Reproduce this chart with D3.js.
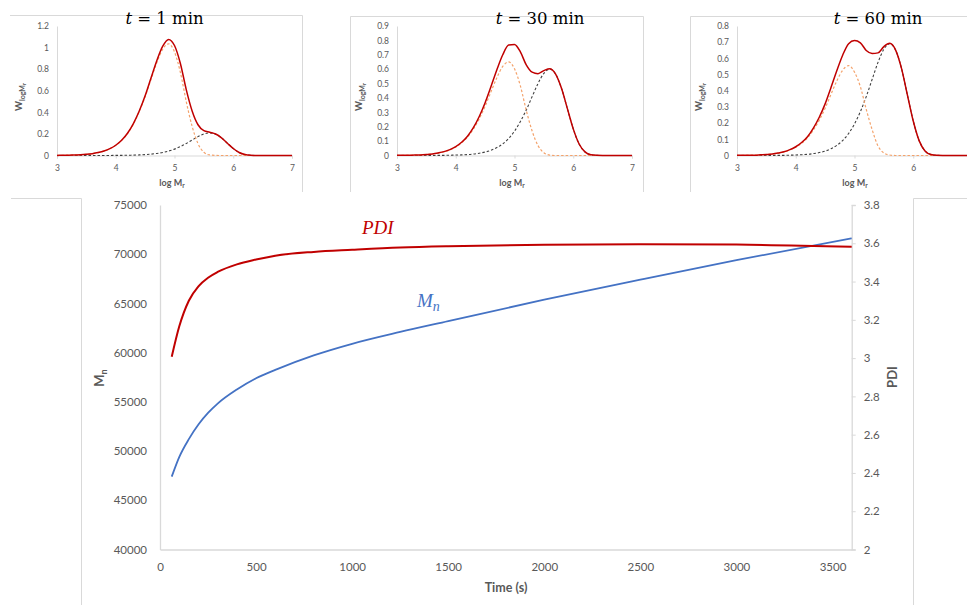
<!DOCTYPE html>
<html><head><meta charset="utf-8">
<script src="https://cdn.jsdelivr.net/npm/d3@7"></script>
<style>body{margin:0;background:#fff}svg{display:block}</style>
</head><body>
<svg id="c" width="967" height="605"></svg>
<script>
// ---------- data ----------
const logM = [3.0,3.1,3.2,3.3,3.4,3.5,3.6,3.7,3.8,3.9,4.0,4.1,4.2,4.3,4.4,4.5,4.6,4.7,4.8,4.9,5.0,5.1,5.2,5.3,5.4,5.5,5.6,5.7,5.8,5.9,6.0,6.1,6.2,6.3,6.4,6.5,6.6,6.7,6.8,6.9,7.0];

const t1Total = [0.001,0.002,0.003,0.005,0.007,0.011,0.017,0.027,0.041,0.063,0.095,0.141,0.206,0.296,0.412,0.553,0.718,0.881,1.013,1.076,1.019,0.853,0.611,0.413,0.285,0.23,0.215,0.199,0.164,0.114,0.065,0.028,0.009,0.002,0,0,0,0,0,0,0];
const t1Low   = [0.001,0.002,0.003,0.005,0.007,0.011,0.017,0.027,0.041,0.063,0.094,0.14,0.204,0.292,0.407,0.545,0.705,0.862,0.985,1.035,0.96,0.77,0.5,0.27,0.11,0.03,0.005,0.001,0,0,0,0,0,0,0,0,0,0,0,0,0];
const t1High  = [0,0,0,0,0,0,0,0.0002,0.0004,0.0006,0.0009,0.0014,0.0023,0.0035,0.0054,0.0083,0.0127,0.0191,0.0284,0.0414,0.0592,0.0825,0.111,0.143,0.175,0.2,0.21,0.198,0.164,0.114,0.065,0.028,0.009,0.002,0,0,0,0,0,0,0];

const t30Total = [0.001,0.001,0.002,0.003,0.004,0.007,0.011,0.018,0.027,0.041,0.062,0.092,0.134,0.193,0.271,0.367,0.479,0.596,0.7,0.768,0.772,0.72,0.63,0.579,0.569,0.59,0.603,0.566,0.467,0.326,0.185,0.08,0.025,0.005,0.001,0,0,0,0,0,0];
const t30Low   = [0.001,0.001,0.002,0.003,0.004,0.007,0.011,0.017,0.026,0.039,0.059,0.088,0.128,0.183,0.255,0.343,0.443,0.541,0.619,0.65,0.603,0.484,0.314,0.17,0.069,0.019,0.003,0,0,0,0,0,0,0,0,0,0,0,0,0,0];
const t30High  = [0,0,0,0,0,0,0,0.001,0.001,0.002,0.003,0.004,0.006,0.01,0.016,0.024,0.036,0.055,0.081,0.118,0.169,0.236,0.316,0.409,0.5,0.571,0.6,0.566,0.467,0.326,0.185,0.08,0.025,0.005,0.001,0,0,0,0,0,0];

const t60Total = [0.001,0.001,0.002,0.002,0.004,0.006,0.009,0.015,0.023,0.036,0.054,0.08,0.116,0.169,0.236,0.319,0.42,0.525,0.621,0.691,0.71,0.696,0.649,0.63,0.634,0.673,0.693,0.651,0.538,0.375,0.213,0.092,0.028,0.006,0.001,0,0,0,0,0,0];
const t60Low   = [0.001,0.001,0.002,0.002,0.004,0.006,0.009,0.014,0.022,0.034,0.051,0.075,0.109,0.157,0.218,0.292,0.378,0.462,0.528,0.555,0.515,0.425,0.285,0.16,0.059,0.016,0.003,0,0,0,0,0,0,0,0,0,0,0,0,0,0];
const t60High  = [0,0,0,0,0,0,0,0.001,0.001,0.002,0.003,0.005,0.007,0.012,0.018,0.027,0.042,0.063,0.093,0.136,0.195,0.271,0.364,0.47,0.575,0.657,0.69,0.651,0.538,0.375,0.213,0.092,0.028,0.006,0.001,0,0,0,0,0,0];

const panelMinutes = ["1","30","60"];
const panelYMax = [1.2, 0.9, 0.8];
const logMTicks = [3,4,5,6,7];
const logMTicksClipped = [3,4,5,6];
const wTicks1 = [0,0.2,0.4,0.6,0.8,1,1.2];
const wTicks30 = [0,0.1,0.2,0.3,0.4,0.5,0.6,0.7,0.8,0.9];
const wTicks60 = [0,0.1,0.2,0.3,0.4,0.5,0.6,0.7,0.8];

const timeS = [61,100,150,200,250,300,400,500,600,800,1000,1250,1500,2000,2500,3000,3600];
const mnValues = [47400,49390,51210,52700,53870,54820,56250,57400,58250,59720,60900,62100,63200,65380,67420,69400,71610];
const pdiValues = [3.007,3.165,3.30,3.375,3.42,3.45,3.49,3.515,3.535,3.555,3.566,3.578,3.585,3.592,3.595,3.593,3.582];
const timeTicks = [0,500,1000,1500,2000,2500,3000,3500];
const mnTicks = [40000,45000,50000,55000,60000,65000,70000,75000];
const pdiTicks = [2,2.2,2.4,2.6,2.8,3,3.2,3.4,3.6,3.8];

// ---------- drawing ----------
const svg = d3.select("#c");
const GRID = "#d9d9d9", TXT = "#595959", RED = "#c00000", BLUE = "#4472c4";
const SANS = "Lato, 'Open Sans', sans-serif";
const SERIF = "'Liberation Serif', 'DejaVu Serif', serif";
const TSERIF = "'DejaVu Serif', 'Liberation Serif', serif";

// frames of the pasted chart boxes
const frames = ["M10,15.5H302.5V192","M350.5,192V16.5H643.5V192","M690.5,192V16.5H967","M11,198.5H81.5V605","M913.5,605V198.5H967"];
svg.selectAll("path.frame").data(frames).join("path").attr("class","frame")
  .attr("d", d => d).attr("fill","none").attr("stroke", GRID).attr("stroke-width",1);

const panels = [
  {x0:57, total:t1Total, low:t1Low, high:t1High, ticks:wTicks1, xticks:logMTicks, tx:164.5, ytx:22, xtx:172},
  {x0:397, total:t30Total, low:t30Low, high:t30High, ticks:wTicks30, xticks:logMTicks, tx:540, ytx:362, xtx:512},
  {x0:737, total:t60Total, low:t60Low, high:t60High, ticks:wTicks60, xticks:logMTicksClipped, tx:878, ytx:702, xtx:855}
];
const fmt1 = d => String(+d.toFixed(1));

panels.forEach((p, i) => {
  const g = svg.append("g");
  const x = d3.scaleLinear([3,7], [p.x0, p.x0 + 235]);
  const y = d3.scaleLinear([0, panelYMax[i]], [155.5, 26]);

  const ya = g.append("g").attr("transform", `translate(${p.x0},0)`)
    .call(d3.axisLeft(y).tickValues(p.ticks).tickSize(0).tickPadding(8).tickFormat(fmt1));
  const xa = g.append("g").attr("transform", `translate(0,155.5)`)
    .call(d3.axisBottom(x).tickValues(p.xticks).tickSize(3).tickPadding(6).tickFormat(d3.format("d")));
  [ya, xa].forEach(a => {
    a.select(".domain").attr("stroke", GRID);
    a.selectAll(".tick line").attr("stroke", GRID);
    a.selectAll("text").attr("fill", TXT).attr("font-family", SANS).attr("font-size", 8.5);
  });

  const pts = arr => arr.map((v, k) => [logM[k], v]);
  const line = d3.line().x(d => x(d[0])).y(d => y(d[1])).curve(d3.curveMonotoneX);
  g.append("path").attr("d", line(pts(p.high))).attr("fill","none")
    .attr("stroke","#404040").attr("stroke-width",1.1).attr("stroke-dasharray","2.5,2");
  g.append("path").attr("d", line(pts(p.low))).attr("fill","none")
    .attr("stroke","#f4a26b").attr("stroke-width",1.2).attr("stroke-dasharray","2.5,2");
  g.append("path").attr("d", line(pts(p.total))).attr("fill","none")
    .attr("stroke", RED).attr("stroke-width",1.5);

  // title
  const tt = g.append("text").attr("x", p.tx).attr("y", 24).attr("text-anchor","middle")
    .attr("font-family", TSERIF).attr("font-size", 16.5).attr("fill","#000");
  tt.append("tspan").attr("font-style","italic").text("t");
  tt.append("tspan").text(" = " + panelMinutes[i] + " min");

  // axis titles
  const yt = g.append("text").attr("transform", `translate(${p.ytx},97) rotate(-90)`)
    .attr("text-anchor","middle").attr("font-family", SANS).attr("font-weight","bold")
    .attr("font-size", 9.5).attr("fill", TXT);
  yt.append("tspan").text("W");
  yt.append("tspan").attr("font-size", 7).attr("dy", 2.5).text("logM");
  yt.append("tspan").attr("font-size", 5.5).attr("dy", 1.5).text("r");

  const xt = g.append("text").attr("x", p.xtx).attr("y", 186).attr("text-anchor","middle")
    .attr("font-family", SANS).attr("font-weight","bold").attr("font-size", 9).attr("fill", TXT);
  xt.append("tspan").text("log M");
  xt.append("tspan").attr("font-size", 6.5).attr("dy", 2).text("r");
});

// ---------- main chart ----------
const X = d3.scaleLinear([0,3600], [160, 851.7]);
const YL = d3.scaleLinear([40000,75000], [549.5, 205]);
const YR = d3.scaleLinear([2,3.8], [549.5, 205]);
const m = svg.append("g");

const axL = m.append("g").attr("transform","translate(160,0)")
  .call(d3.axisLeft(YL).tickValues(mnTicks).tickSize(0).tickPadding(13).tickFormat(d3.format("d")));
const axB = m.append("g").attr("transform","translate(0,549.5)")
  .call(d3.axisBottom(X).tickValues(timeTicks).tickSize(0).tickPadding(13).tickFormat(d3.format("d")));
const axR = m.append("g").attr("transform","translate(851.7,0)")
  .call(d3.axisRight(YR).tickValues(pdiTicks).tickSize(4).tickPadding(8).tickFormat(fmt1));
[axL, axB, axR].forEach(a => {
  a.select(".domain").attr("stroke", GRID).attr("stroke-width", 1.3);
  a.selectAll(".tick line").attr("stroke", GRID);
  a.selectAll("text").attr("fill", TXT).attr("font-family", SANS).attr("font-size", 11.5);
});

const mainPts = timeS.map((t, k) => ({t, mn: mnValues[k], pdi: pdiValues[k]}));
m.append("path").attr("d", d3.line().x(d => X(d.t)).y(d => YL(d.mn)).curve(d3.curveMonotoneX)(mainPts))
  .attr("fill","none").attr("stroke", BLUE).attr("stroke-width", 1.8);
m.append("path").attr("d", d3.line().x(d => X(d.t)).y(d => YR(d.pdi)).curve(d3.curveMonotoneX)(mainPts))
  .attr("fill","none").attr("stroke", RED).attr("stroke-width", 2);

// in-plot labels
m.append("text").attr("x", 362).attr("y", 234).attr("font-family", SERIF).attr("font-style","italic")
  .attr("font-size", 19).attr("fill", RED).text("PDI");
const mnl = m.append("text").attr("x", 417).attr("y", 307).attr("font-family", SERIF).attr("font-style","italic")
  .attr("font-size", 19).attr("fill", BLUE);
mnl.append("tspan").text("M");
mnl.append("tspan").attr("font-size", 14).attr("dy", 4).text("n");

// axis titles
m.append("text").attr("x", 506).attr("y", 592).attr("text-anchor","middle").attr("font-family", SANS)
  .attr("font-weight","bold").attr("font-size", 12.5).attr("fill", TXT).text("Time (s)");
const lt = m.append("text").attr("transform","translate(104,378) rotate(-90)").attr("text-anchor","middle")
  .attr("font-family", SANS).attr("font-weight","bold").attr("font-size", 13).attr("fill", TXT);
lt.append("tspan").text("M");
lt.append("tspan").attr("font-size", 9).attr("dy", 3).text("n");
m.append("text").attr("transform","translate(897,377) rotate(-90)").attr("text-anchor","middle")
  .attr("font-family", SANS).attr("font-weight","bold").attr("font-size", 13).attr("fill", TXT).text("PDI");
</script>
</body></html>
